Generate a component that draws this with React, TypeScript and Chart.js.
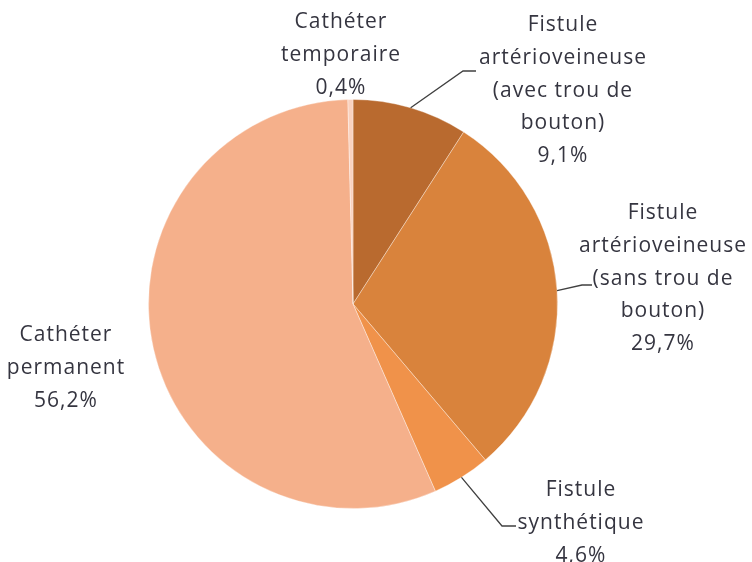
import React, { useEffect, useRef } from "react";
import { Chart, registerables } from "chart.js";

Chart.register(...registerables);

const categories: string[][] = [
  ["Fistule", "artérioveineuse", "(avec trou de", "bouton)"],
  ["Fistule", "artérioveineuse", "(sans trou de", "bouton)"],
  ["Fistule", "synthétique"],
  ["Cathéter", "permanent"],
  ["Cathéter", "temporaire"],
];
const values: number[] = [9.1, 29.7, 4.6, 56.2, 0.4];
const valueLabels: string[] = ["9,1%", "29,7%", "4,6%", "56,2%", "0,4%"];
const colors: string[] = ["#B96A2F", "#D9833C", "#F0924A", "#F5B08B", "#FAD2BF"];

// label layout: center x, first line y, leader elbow & end (null = no leader)
const labelLayout = [
  { x: 563, y: 25, elbow: [463, 71], end: [476, 71] },
  { x: 663, y: 213, elbow: [582, 285], end: [592, 285] },
  { x: 581, y: 490, elbow: [502, 526], end: [516, 526] },
  { x: 66, y: 335, elbow: null, end: null },
  { x: 341, y: 22, elbow: null, end: null },
];

const labelPlugin = {
  id: "pieLabels",
  afterDraw(chart: any) {
    const ctx = chart.ctx;
    const meta = chart.getDatasetMeta(0);
    ctx.save();
    ctx.font = '21px "Open Sans", Lato, sans-serif';
    try { (ctx as any).letterSpacing = "1px"; } catch (e) {}
    ctx.fillStyle = "#353540";
    ctx.textAlign = "center";
    ctx.textBaseline = "middle";
    const lh = 32.8;
    meta.data.forEach((arc: any, i: number) => {
      const lay = labelLayout[i];
      const lines = [...categories[i], valueLabels[i]];
      lines.forEach((t, k) => ctx.fillText(t, lay.x, lay.y + k * lh));
      if (lay.elbow && lay.end) {
        const p = arc.getProps(["x", "y", "startAngle", "endAngle", "outerRadius"], true);
        const mid = (p.startAngle + p.endAngle) / 2;
        const sx = p.x + Math.cos(mid) * p.outerRadius;
        const sy = p.y + Math.sin(mid) * p.outerRadius;
        ctx.beginPath();
        ctx.strokeStyle = "#404040";
        ctx.lineWidth = 1.3;
        ctx.moveTo(sx, sy);
        ctx.lineTo(lay.elbow[0], lay.elbow[1]);
        ctx.lineTo(lay.end[0], lay.end[1]);
        ctx.stroke();
      }
    });
    ctx.restore();
  },
};

export default function App() {
  const ref = useRef<HTMLCanvasElement>(null);
  useEffect(() => {
    document.body.style.margin = "0";
    const chart = new Chart(ref.current!, {
      type: "pie",
      data: {
        labels: categories.map((c) => c.join(" ")),
        datasets: [
          {
            data: values,
            backgroundColor: colors,
            borderColor: "rgba(255,255,255,0.35)",
            borderWidth: 1,
          },
        ],
      },
      options: {
        responsive: false,
        animation: false,
        layout: { padding: { left: 148, right: 194, top: 99, bottom: 53 } },
        plugins: { legend: { display: false }, tooltip: { enabled: false } },
      },
      plugins: [labelPlugin],
    });
    return () => chart.destroy();
  }, []);
  return (
    <div style={{ width: 752, height: 562, background: "#fff" }}>
      <canvas ref={ref} width={752} height={562} />
    </div>
  );
}
